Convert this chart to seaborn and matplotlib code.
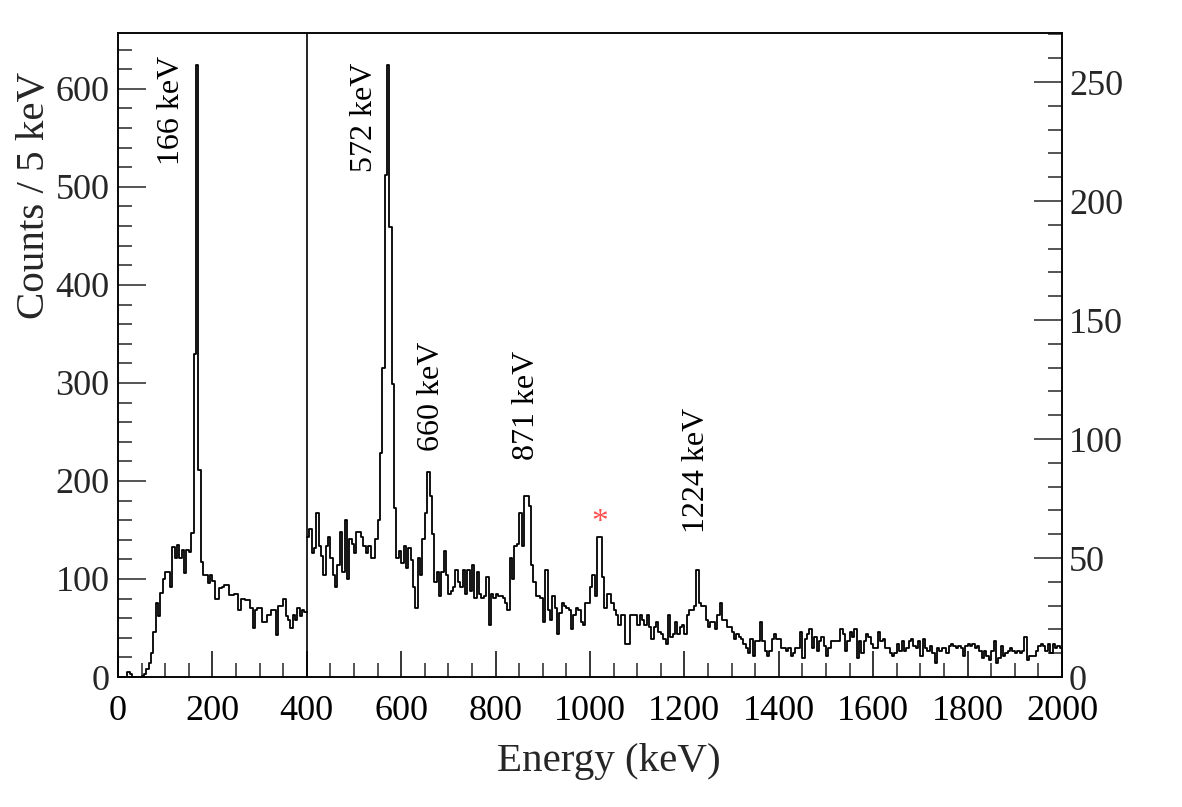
import numpy as np
import pandas as pd
import matplotlib
matplotlib.use("Agg")
import matplotlib.pyplot as plt
from matplotlib.ticker import MultipleLocator
import seaborn as sns

# --- Spectrum data (5 keV bins) ---
BIN_WIDTH = 5

# 0 - 400 keV, read against the left axis
low_counts = [
    0, 0, 0, 0, 5, 3, 0, 0, 0, 0,
    1, 3, 8, 14, 24, 46, 75, 62, 86, 100,
    107, 107, 92, 133, 121, 135, 121, 130, 106, 130,
    128, 147, 330, 624, 211, 117, 104, 104, 96, 104,
    98, 80, 80, 91, 92, 94, 94, 84, 84, 85,
    85, 68, 80, 80, 79, 79, 70, 50, 68, 70,
    70, 56, 56, 63, 63, 68, 68, 43, 72, 72,
    80, 62, 58, 50, 63, 58, 70, 62, 68, 66,
]

# 400 - 2000 keV, read against the right axis
high_counts = [
    59, 62, 52, 54, 69, 55, 51, 43, 55, 59,
    50, 43, 38, 47, 61, 44, 66, 41, 58, 56,
    52, 61, 61, 59, 55, 52, 55, 50, 50, 58,
    66, 94, 130, 211, 257, 189, 123, 71, 50, 53,
    48, 55, 46, 54, 49, 38, 29, 50, 43, 58,
    69, 86, 76, 60, 40, 44, 34, 44, 53, 43,
    35, 36, 38, 45, 40, 38, 45, 35, 45, 36,
    47, 33, 44, 35, 33, 34, 42, 22, 35, 33,
    35, 34, 34, 33, 31, 28, 50, 41, 55, 56,
    69, 55, 76, 76, 72, 47, 40, 34, 34, 33,
    23, 45, 28, 24, 34, 29, 18, 27, 31, 30,
    29, 28, 20, 26, 29, 28, 23, 22, 31, 31,
    38, 43, 34, 59, 59, 42, 29, 35, 35, 31,
    28, 26, 22, 26, 26, 14, 14, 26, 26, 26,
    22, 26, 24, 22, 26, 21, 16, 21, 23, 19,
    18, 16, 14, 26, 17, 18, 23, 18, 21, 22,
    18, 26, 28, 28, 30, 45, 31, 30, 30, 24,
    21, 23, 23, 20, 26, 31, 24, 24, 21, 21,
    19, 16, 18, 17, 16, 14, 12, 10, 16, 9,
    15, 15, 23, 15, 11, 9, 11, 16, 18, 16,
    16, 12, 12, 11, 12, 9, 10, 12, 12, 19,
    8, 16, 18, 20, 12, 17, 11, 15, 17, 13,
    9, 12, 15, 15, 15, 15, 20, 18, 11, 15,
    19, 17, 20, 8, 15, 10, 15, 18, 17, 14,
    12, 12, 19, 15, 16, 12, 12, 10, 9, 10,
    14, 11, 15, 11, 12, 15, 16, 13, 12, 15,
    9, 16, 12, 11, 13, 10, 6, 12, 11, 12,
    12, 10, 13, 14, 13, 12, 13, 12, 9, 13,
    14, 13, 14, 12, 13, 11, 8, 11, 9, 7,
    11, 15, 6, 8, 13, 9, 10, 11, 12, 11,
    10, 11, 10, 11, 17, 7, 9, 9, 9, 11,
    13, 14, 13, 11, 14, 10, 14, 12, 13, 12,
]

# peak labels: (text, energy, height, which axis)
peak_labels = [
    ("166 keV", 114, 578, "left"),
    ("572 keV", 523, 235, "right"),
    ("660 keV", 665, 118, "right"),
    ("871 keV", 866, 114, "right"),
    ("1224 keV", 1225, 87, "right"),
]

SPLIT = 400
low_edges = np.arange(0, SPLIT + BIN_WIDTH, BIN_WIDTH)
high_edges = np.arange(SPLIT, 2000 + BIN_WIDTH, BIN_WIDTH)

low_df = pd.DataFrame({"energy": low_edges[:-1] + BIN_WIDTH / 2, "counts": low_counts})
high_df = pd.DataFrame({"energy": high_edges[:-1] + BIN_WIDTH / 2, "counts": high_counts})

# --- Style ---
sns.set_style("ticks")
plt.rcParams["font.family"] = ["Liberation Serif", "DejaVu Serif"]

fig = plt.figure(figsize=(11.82, 8.07), dpi=100)
ax = fig.add_axes([118 / 1182, 1 - 677 / 807, 944 / 1182, 644 / 807])
ax2 = ax.twinx()

# bins passed as plain lists (seaborn compares bins to "auto" when weights are used)
sns.histplot(data=low_df, x="energy", weights="counts", bins=low_edges.tolist(),
             element="step", fill=False, color="black", linewidth=1.3, ax=ax)
sns.histplot(data=high_df, x="energy", weights="counts", bins=high_edges.tolist(),
             element="step", fill=False, color="black", linewidth=1.3, ax=ax2)

ax.axvline(SPLIT, color="black", linewidth=1.2)

ax.set_xlim(0, 2000)
ax.set_ylim(0, 657)
ax2.set_ylim(0, 270.6)

# --- Axes / ticks (ROOT-like, inward) ---
ax.xaxis.set_major_locator(MultipleLocator(200))
ax.xaxis.set_minor_locator(MultipleLocator(50))
ax.yaxis.set_major_locator(MultipleLocator(100))
ax.yaxis.set_minor_locator(MultipleLocator(20))
ax2.yaxis.set_major_locator(MultipleLocator(50))
ax2.yaxis.set_minor_locator(MultipleLocator(10))

ax.tick_params(axis="x", which="major", direction="in", length=19, width=1.1,
               labelsize=26, pad=13, top=False, colors="black")
ax.tick_params(axis="x", which="minor", direction="in", length=10, width=1.1, top=False)
ax.tick_params(axis="y", which="major", direction="in", length=20, width=1.1,
               labelsize=26, pad=6, right=False)
ax.tick_params(axis="y", which="minor", direction="in", length=10, width=1.1, right=False)
ax2.tick_params(axis="y", which="major", direction="in", length=20, width=1.1,
                labelsize=26, pad=5, left=False)
ax2.tick_params(axis="y", which="minor", direction="in", length=10, width=1.1, left=False)

for a in (ax, ax2):
    for sp in a.spines.values():
        sp.set_color("black")
        sp.set_linewidth(1.1)

ax.set_xlabel("Energy (keV)", fontsize=29.5)
ax.set_ylabel("Counts / 5 keV", fontsize=29.5)
ax2.set_ylabel("")
ax.xaxis.set_label_coords(0.520, -0.102)
ax.yaxis.set_label_coords(-0.069, 0.748)

# --- Peak annotations ---
for text, energy, height, side in peak_labels:
    target = ax if side == "left" else ax2
    target.text(energy, height, text, rotation=90, ha="center", va="center",
                fontsize=23, color="black")

ax2.text(1021, 65, "*", ha="center", va="center", fontsize=24, color="#ff5050")

fig.savefig("out.png", dpi=100)
